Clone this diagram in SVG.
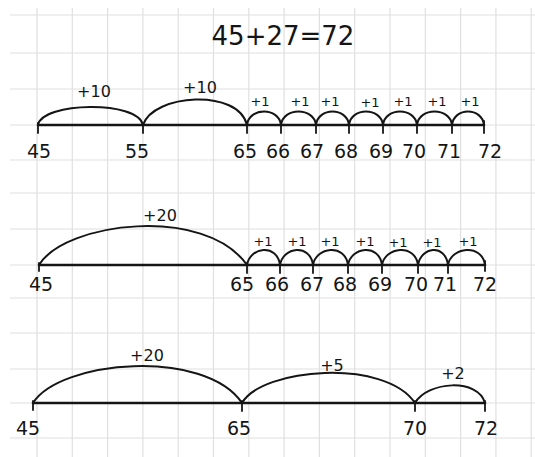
<svg xmlns="http://www.w3.org/2000/svg" width="535" height="457" viewBox="0 0 535 457">
<style>
.g{stroke:#e0e0e0;stroke-width:1.2;fill:none}
.ax{stroke:#151515;stroke-width:2.6;fill:none;stroke-linecap:round}
.tk{stroke:#151515;stroke-width:1.8;fill:none;stroke-linecap:round}
.arc{stroke:#151515;stroke-width:2;fill:none;stroke-linecap:round}
text{font-family:"DejaVu Sans","Liberation Sans",sans-serif;fill:#151515;text-anchor:middle}
.n{font-size:19px}
.s{font-size:13px}
.m{font-size:16px}
</style>
<rect width="535" height="457" fill="#ffffff"/>
<g id="grid" class="g">
<path d="M10,15H535M10,53H535M10,89H535M10,125H535M10,160H535M10,193H535M10,229H535M10,265H535M10,298H535M10,333H535M10,369H535M10,403H535M10,438H535"/>
<path d="M37,8V457M72.3,8V457M107.6,8V457M142.9,8V457M178.2,8V457M213.5,8V457M248.8,8V457M284.1,8V457M319.4,8V457M354.7,8V457M390,8V457M425.3,8V457M460.6,8V457M495.9,8V457M531.2,8V457"/>
</g>
<g id="title"><text x="283" y="45" style="font-size:26px">45+27=72</text></g>

<g id="row1">
<path class="ax" d="M38,125H484"/>
<g id="r1-45"><path class="tk" d="M38,123V133"/><text class="n" x="39" y="158">45</text></g>
<g id="r1-55"><path class="tk" d="M143,123V133"/><text class="n" x="137" y="158">55</text></g>
<g id="r1-65"><path class="tk" d="M247,123V133"/><text class="n" x="245" y="158">65</text></g>
<g id="r1-66"><path class="tk" d="M281,123V133"/><text class="n" x="278" y="158">66</text></g>
<g id="r1-67"><path class="tk" d="M316,123V133"/><text class="n" x="312" y="158">67</text></g>
<g id="r1-68"><path class="tk" d="M349,123V133"/><text class="n" x="346" y="158">68</text></g>
<g id="r1-69"><path class="tk" d="M383,123V133"/><text class="n" x="381" y="158">69</text></g>
<g id="r1-70"><path class="tk" d="M417,123V133"/><text class="n" x="414" y="158">70</text></g>
<g id="r1-71"><path class="tk" d="M452,123V133"/><text class="n" x="449" y="158">71</text></g>
<g id="r1-72"><path class="tk" d="M484,121V133"/><text class="n" x="490" y="158">72</text></g>
</g>

<g id="row2">
<path class="ax" d="M39,265H485"/>
<g id="r2-45"><path class="tk" d="M39,263V271"/><text class="n" x="41" y="291">45</text></g>
<g id="r2-65"><path class="tk" d="M247,263V273"/><text class="n" x="242" y="291">65</text></g>
<g id="r2-66"><path class="tk" d="M280,263V273"/><text class="n" x="277" y="291">66</text></g>
<g id="r2-67"><path class="tk" d="M313,263V273"/><text class="n" x="312" y="291">67</text></g>
<g id="r2-68"><path class="tk" d="M348,263V273"/><text class="n" x="345" y="291">68</text></g>
<g id="r2-69"><path class="tk" d="M382,263V273"/><text class="n" x="380" y="291">69</text></g>
<g id="r2-70"><path class="tk" d="M418,263V273"/><text class="n" x="416" y="291">70</text></g>
<g id="r2-71"><path class="tk" d="M448,263V273"/><text class="n" x="445" y="291">71</text></g>
<g id="r2-72"><path class="tk" d="M485,261V271"/><text class="n" x="485" y="291">72</text></g>
</g>

<g id="row3">
<path class="ax" d="M33,403H485"/>
<g id="r3-45"><path class="tk" d="M33,401V410"/><text class="n" x="28" y="435">45</text></g>
<g id="r3-65"><path class="tk" d="M242,401V411"/><text class="n" x="239" y="435">65</text></g>
<g id="r3-70"><path class="tk" d="M415,401V411"/><text class="n" x="415" y="435">70</text></g>
<g id="r3-72"><path class="tk" d="M485,401V411"/><text class="n" x="486" y="435">72</text></g>
</g>

<g id="connectors">
<path class="arc" d="M38,125C42,102 138,100 143,125"/>
<path class="arc" d="M143,125C153,94 238,88 247,125"/>
<path class="arc" d="M247,125C249,107 279,107 281,125"/>
<path class="arc" d="M281,125C283,107 314,107 316,125"/>
<path class="arc" d="M316,125C318,107 347,107 349,125"/>
<path class="arc" d="M349,125C351,107 381,107 383,125"/>
<path class="arc" d="M383,125C385,107 415,107 417,125"/>
<path class="arc" d="M417,125C419,107 450,107 452,125"/>
<path class="arc" d="M452,125C454,107 482,107 484,125"/>
<text class="m" x="94" y="97">+10</text>
<text class="m" x="200" y="93">+10</text>
<text class="s" x="260" y="106">+1</text>
<text class="s" x="300" y="106">+1</text>
<text class="s" x="330" y="106">+1</text>
<text class="s" x="370" y="107">+1</text>
<text class="s" x="403" y="106">+1</text>
<text class="s" x="437" y="106">+1</text>
<text class="s" x="470" y="106">+1</text>

<path class="arc" d="M39,265C65,222 205,205 247,265"/>
<path class="arc" d="M247,265C250,247 277,243 280,265"/>
<path class="arc" d="M280,265C283,247 310,243 313,265"/>
<path class="arc" d="M313,265C316,247 345,243 348,265"/>
<path class="arc" d="M348,265C351,247 379,243 382,265"/>
<path class="arc" d="M382,265C385,247 415,243 418,265"/>
<path class="arc" d="M418,265C421,247 445,243 448,265"/>
<path class="arc" d="M448,265C451,247 482,243 485,265"/>
<text class="m" x="160" y="221">+20</text>
<text class="s" x="263" y="246">+1</text>
<text class="s" x="297" y="246">+1</text>
<text class="s" x="330" y="246">+1</text>
<text class="s" x="365" y="246">+1</text>
<text class="s" x="398" y="247">+1</text>
<text class="s" x="432" y="247">+1</text>
<text class="s" x="468" y="246">+1</text>

<path class="arc" d="M33,403C60,360 205,348 242,403"/>
<path class="arc" d="M242,403C262,368 385,358 415,403"/>
<path class="arc" d="M415,403C428,381 478,378 485,403"/>
<text class="m" x="147" y="361">+20</text>
<text class="m" x="332" y="371">+5</text>
<text class="m" x="453" y="379">+2</text>
</g>
</svg>
